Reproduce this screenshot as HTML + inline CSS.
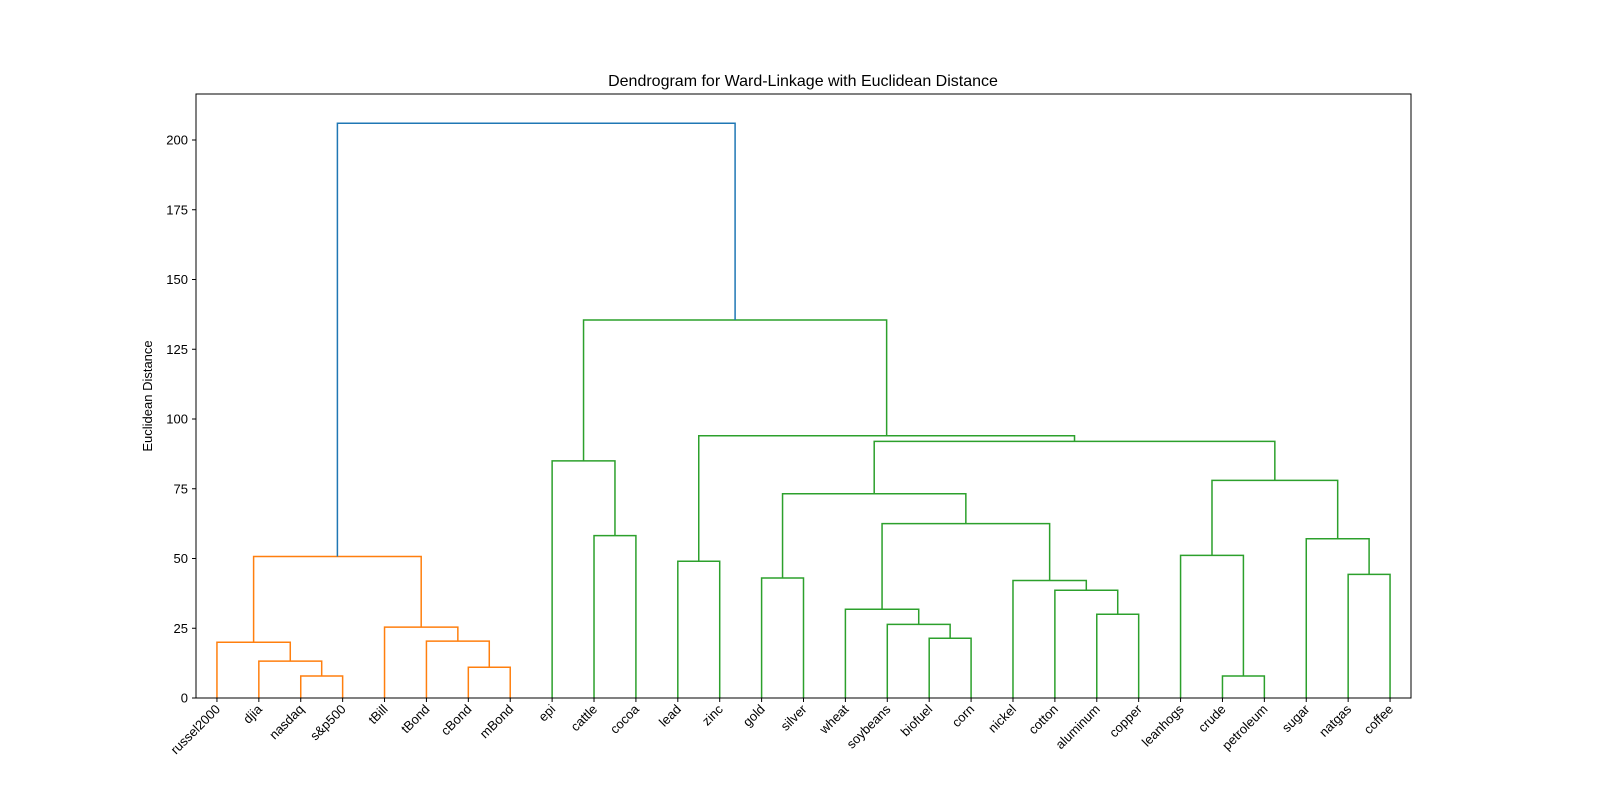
<!DOCTYPE html>
<html><head><meta charset="utf-8"><style>
body{margin:0;background:#fff}
svg{display:block;font-family:"Liberation Sans","DejaVu Sans",sans-serif}
</style></head><body>
<svg id="chart" width="1600" height="800">
<text x="803" y="86" text-anchor="middle" font-size="16">Dendrogram for Ward-Linkage with Euclidean Distance</text>
<text transform="translate(152,396) rotate(-90)" text-anchor="middle" font-size="13">Euclidean Distance</text>
<g id="links"></g>
<g id="axes"></g>
</svg>
<script>
const leaves=["russel2000","djia","nasdaq","s&p500","tBill","tBond","cBond","mBond","epi","cattle","cocoa","lead","zinc","gold","silver","wheat","soybeans","biofuel","corn","nickel","cotton","aluminum","copper","leanhogs","crude","petroleum","sugar","natgas","coffee"];
const mergeLeft=["nasdaq","djia","russel2000","cBond","tBond","tBill","n2","cattle","epi","lead","gold","biofuel","soybeans","wheat","aluminum","cotton","nickel","n13","n10","crude","leanhogs","natgas","sugar","n20","n18","n9","n8","n6"];
const mergeRight=["s&p500","n0","n1","mBond","n3","n4","n5","cocoa","n7","zinc","silver","corn","n11","n12","copper","n14","n15","n16","n17","petroleum","n19","coffee","n21","n22","n23","n24","n25","n26"];
const mergeHeights=[7.9,13.2,20,11,20.4,25.4,50.7,58.2,85,49,43,21.4,26.4,31.8,30,38.6,42.1,62.5,73.2,7.9,51.1,44.3,57.1,78,92,94,135.5,206];
const mergeColors=["o","o","o","o","o","o","o","g","g","g","g","g","g","g","g","g","g","g","g","g","g","g","g","g","g","g","g","b"];
const yTicks=[0,25,50,75,100,125,150,175,200];
const L=196,R=1411,T=94,B=698;
const colorMap={o:"#ff7f0e",g:"#2ca02c",b:"#1f77b4"};
const xs=i=>L+(5+10*i)*(R-L)/(leaves.length*10);
const ys=v=>B-v*(B-140)/200;
const NS="http://www.w3.org/2000/svg";
const links=document.getElementById("links"),axes=document.getElementById("axes");
const pos={},ht={};
leaves.forEach((n,i)=>{pos[n]=xs(i);ht[n]=0;});
mergeLeft.forEach((a,k)=>{
  const b=mergeRight[k],h=mergeHeights[k];
  const x1=pos[a],x2=pos[b];
  const p=document.createElementNS(NS,"path");
  p.setAttribute("d",`M${x1},${ys(ht[a])}V${ys(h)}H${x2}V${ys(ht[b])}`);
  p.setAttribute("fill","none");p.setAttribute("stroke",colorMap[mergeColors[k]]);p.setAttribute("stroke-width","1.5");
  
  
  links.appendChild(p);
  pos["n"+k]=(x1+x2)/2;ht["n"+k]=h;
});
const fr=document.createElementNS(NS,"rect");
fr.setAttribute("x",L);fr.setAttribute("y",T);fr.setAttribute("width",R-L);fr.setAttribute("height",B-T);
fr.setAttribute("fill","none");fr.setAttribute("stroke","#000");fr.setAttribute("stroke-width","1");


axes.appendChild(fr);
yTicks.forEach(v=>{
  const y=ys(v);
  const t=document.createElementNS(NS,"line");
  t.setAttribute("x1",L-4);t.setAttribute("x2",L);t.setAttribute("y1",y);t.setAttribute("y2",y);t.setAttribute("stroke","#000");
  
  
  axes.appendChild(t);
  const tx=document.createElementNS(NS,"text");
  tx.setAttribute("x",L-8);tx.setAttribute("y",y+4.5);tx.setAttribute("text-anchor","end");tx.setAttribute("font-size","13");
  tx.textContent=v;
  
  
  axes.appendChild(tx);
});
leaves.forEach((n,i)=>{
  const x=xs(i);
  const t=document.createElementNS(NS,"line");
  t.setAttribute("x1",x);t.setAttribute("x2",x);t.setAttribute("y1",B);t.setAttribute("y2",B+4);t.setAttribute("stroke","#000");
  
  
  axes.appendChild(t);
  const tx=document.createElementNS(NS,"text");
  tx.setAttribute("transform",`translate(${x+4},${B+12}) rotate(-45)`);
  tx.setAttribute("text-anchor","end");tx.setAttribute("font-size","13");
  tx.textContent=n;
  
  
  axes.appendChild(tx);
});
</script>
</body></html>
